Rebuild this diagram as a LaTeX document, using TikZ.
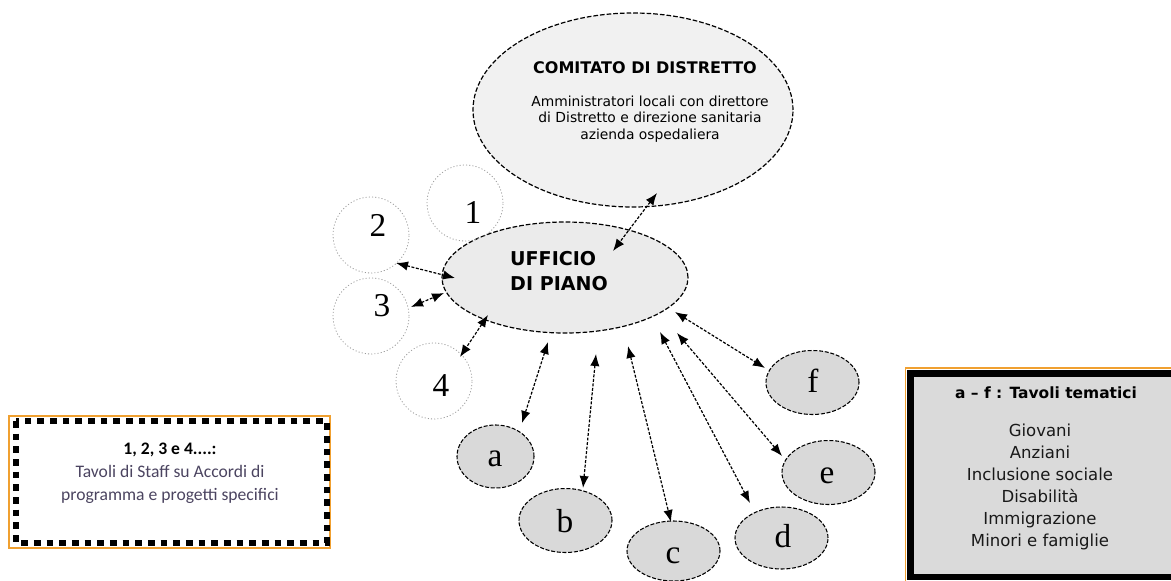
\documentclass[tikz,border=0pt]{standalone}
\usepackage{fontspec}
\setmainfont{Liberation Serif}
\newfontfamily\dejavu{DejaVu Sans}
\newfontfamily\carlito{Carlito}
\usetikzlibrary{arrows.meta,shapes.geometric}
\definecolor{bigfill}{HTML}{EBEBEB}
\definecolor{smallfill}{HTML}{D9D9D9}
\definecolor{legorange}{HTML}{F0A030}
\definecolor{legtext}{HTML}{4B4460}
\definecolor{legfill}{HTML}{DADADA}
\begin{document}
\begin{tikzpicture}[x=0.75pt,y=-0.75pt,
  bigell/.style={ellipse, draw=black, fill=bigfill, line width=0.9pt, dash pattern=on 3.5pt off 1.5pt, inner sep=0pt},
  smallell/.style={ellipse, draw=black, fill=smallfill, line width=0.8pt, dash pattern=on 3pt off 1.3pt, inner sep=0pt, minimum width=69.75pt, minimum height=48pt},
  staffcirc/.style={circle, draw=gray!80, line width=0.6pt, dash pattern=on 0.8pt off 1.6pt, inner sep=0pt, minimum size=57pt},
  numtext/.style={font=\fontsize{25pt}{27pt}\selectfont, inner sep=0pt},
  arr/.style={{Latex[length=9pt,width=7pt]}-{Latex[length=9pt,width=7pt]}, line width=0.9pt, dash pattern=on 2.2pt off 1.2pt}
]
\useasboundingbox (0,0) rectangle (1171,581);

% Comitato
\node[bigell, fill=bigfill!70!white, minimum width=240pt, minimum height=145.5pt] (comitato) at (633,110) {};
\node[font=\dejavu\bfseries\fontsize{12pt}{14pt}\selectfont, inner sep=0pt] (comtitle) at (645,68) {COMITATO DI DISTRETTO};
\node[font=\dejavu\fontsize{10.4pt}{12.5pt}\selectfont, align=center, inner sep=0pt] (combody) at (650,119)
  {Amministratori locali con direttore\\di Distretto e direzione sanitaria\\azienda ospedaliera};

% Ufficio di piano
\node[bigell, minimum width=184.5pt, minimum height=83.25pt] (ufficio) at (565,277.5) {};
\node[font=\dejavu\bfseries\fontsize{14.3pt}{18.75pt}\selectfont, align=left, inner sep=0pt] (uffext) at (559,271) {UFFICIO\\DI PIANO};

% Staff circles
\node[staffcirc] (c1) at (465,203) {};
\node[staffcirc] (c2) at (371,235) {};
\node[staffcirc] (c3) at (371,316) {};
\node[staffcirc] (c4) at (434,381) {};
\node[numtext] (n1) at (473,212) {1};
\node[numtext] (n2) at (378,225) {2};
\node[numtext] (n3) at (382,306) {3};
\node[numtext] (n4) at (441,386) {4};

% Thematic ellipses
\node[smallell, minimum width=57.75pt, minimum height=47.25pt] (ta) at (495.5,456.5) {};
\node[smallell] (tb) at (565.5,520.5) {};
\node[smallell, minimum height=45pt] (tc) at (673.5,551) {};
\node[smallell, minimum height=46.5pt] (td) at (781.5,538) {};
\node[smallell] (te) at (828.5,472.5) {};
\node[smallell] (tf) at (812.5,382.5) {};
\node[numtext] (la) at (495,459) {a};
\node[numtext] (lb) at (565,521) {b};
\node[numtext] (lc) at (673,556) {c};
\node[numtext] (ld) at (783,536) {d};
\node[numtext] (le) at (827,476) {e};
\node[numtext] (lf) at (813,381) {f};

% connector end points
\coordinate (kTop) at (657,193);   \coordinate (kBot) at (613,251);
\coordinate (s2a) at (396,263);    \coordinate (s2b) at (455,278);
\coordinate (s3a) at (411,307);    \coordinate (s3b) at (444,293);
\coordinate (s4a) at (488,315);    \coordinate (s4b) at (460,357);
\coordinate (aTop) at (548,342);   \coordinate (aBot) at (522,423);
\coordinate (bTop) at (596,354);   \coordinate (bBot) at (583,488);
\coordinate (cTop) at (628,346);   \coordinate (cBot) at (671,522);
\coordinate (dTop) at (660,332);   \coordinate (dBot) at (750,503);
\coordinate (eTop) at (677,333);   \coordinate (eBot) at (782,456);
\coordinate (fTop) at (675,312);   \coordinate (fBot) at (765,368);

\draw[arr] (kTop) -- (kBot);
\draw[arr] (s2a) -- (s2b);
\draw[arr] (s3a) -- (s3b);
\draw[arr] (s4a) -- (s4b);
\draw[arr] (aTop) -- (aBot);
\draw[arr] (bTop) -- (bBot);
\draw[arr] (cTop) -- (cBot);
\draw[arr] (dTop) -- (dBot);
\draw[arr] (eTop) -- (eBot);
\draw[arr] (fTop) -- (fBot);

% Left legend
\draw[legorange, line width=1.3pt] (9,416) rectangle (330,548);
\draw[black, line width=4.5pt, dash pattern=on 5pt off 4.5pt] (16,421) rectangle (326.5,542.5);
\node[font=\carlito\fontsize{13.2pt}{17.25pt}\selectfont, text=legtext, align=center, inner sep=0pt] (legleft) at (170,473)
  {\textcolor{black}{\bfseries 1, 2, 3 e 4....:}\\Tavoli di Staff su Accordi di\\programma e progetti specifici};

% Right legend
\begin{scope}
\clip (0,0) rectangle (1171,581);
\draw[black, fill=legfill, line width=5pt] (910.5,373.5) rectangle (1190,577);
\draw[legorange, line width=1.3pt] (905.5,590) -- (905.5,368) -- (1190,368);
\end{scope}
\node[font=\dejavu\bfseries\fontsize{11.6pt}{14pt}\selectfont, inner sep=0pt] (legtitle) at (1046,393) {a – f : Tavoli tematici};
\node[font=\dejavu\fontsize{12.4pt}{16.5pt}\selectfont, text=black!90, align=center, inner sep=0pt] (leglist) at (1040,487)
  {Giovani\\Anziani\\Inclusione sociale\\Disabilità\\Immigrazione\\Minori e famiglie};
\end{tikzpicture}
\end{document}
